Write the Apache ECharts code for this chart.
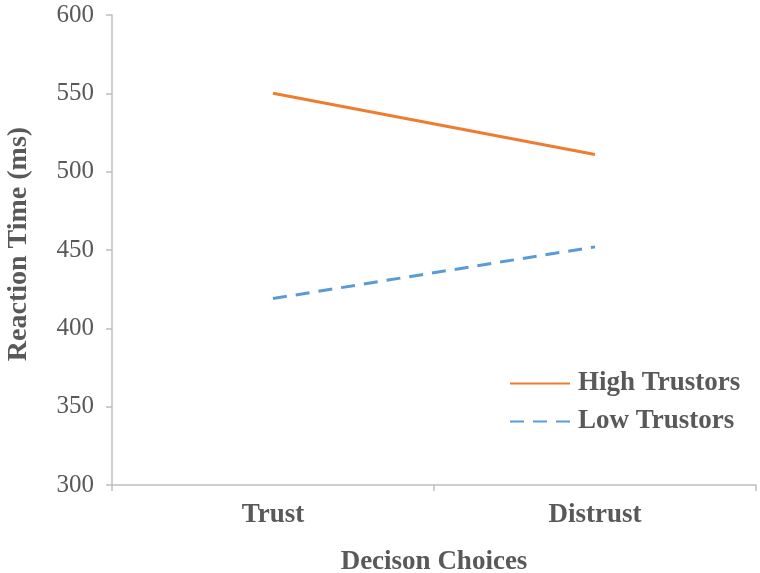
<!DOCTYPE html>
<html>
<head>
<meta charset="utf-8">
<script src="https://cdn.jsdelivr.net/npm/echarts@6/dist/echarts.min.js"></script>
<style>html,body{margin:0;padding:0;background:#fff}#c{width:760px;height:573px}</style>
</head>
<body>
<div id="c"></div>
<script>
var categories = ['Trust', 'Distrust'];
var highTrustors = [550, 511];
var lowTrustors = [419, 452];
var seriesNames = ['High Trustors', 'Low Trustors'];

var font = '"Liberation Serif", "Times New Roman", serif';
var textColor = '#595959';
var axisColor = '#bfbfbf';

var chart = echarts.init(document.getElementById('c'), null, {renderer: 'canvas'});
chart.setOption({
  animation: false,
  backgroundColor: '#fff',
  grid: {left: 112, right: 4, top: 15, bottom: 88, containLabel: false, outerBoundsMode: 'none'},
  legend: {
    orient: 'vertical',
    left: 504,
    top: 365,
    itemWidth: 60,
    itemHeight: 14,
    itemGap: 11,
    itemStyle: {opacity: 0},
    textStyle: {fontFamily: font, fontSize: 27, fontWeight: 'bold', color: textColor, padding: [0,0,0,3]},
    data: seriesNames
  },
  xAxis: {
    type: 'category',
    data: categories,
    boundaryGap: true,
    name: 'Decison Choices',
    nameLocation: 'middle',
    nameGap: 64,
    nameTextStyle: {fontFamily: font, fontSize: 27, fontWeight: 'bold', color: textColor},
    axisLine: {lineStyle: {color: axisColor, width: 1.5}},
    axisTick: {show: true, length: 6, lineStyle: {color: axisColor, width: 1.5}},
    axisLabel: {fontFamily: font, fontSize: 27, fontWeight: 'bold', color: textColor, margin: 17},
    splitLine: {show: false}
  },
  yAxis: {
    type: 'value',
    min: 300,
    max: 600,
    interval: 50,
    name: 'Reaction Time (ms)',
    nameLocation: 'middle',
    nameGap: 79,
    nameTextStyle: {fontFamily: font, fontSize: 28, fontWeight: 'bold', color: textColor, padding: [0,0,0,12]},
    axisLine: {show: true, lineStyle: {color: axisColor, width: 1.5}},
    axisTick: {show: true, length: 6, lineStyle: {color: axisColor, width: 1.5}},
    axisLabel: {fontFamily: font, fontSize: 25, color: textColor, margin: 18},
    splitLine: {show: false}
  },
  series: [
    {
      name: seriesNames[0],
      type: 'line',
      data: highTrustors,
      symbol: 'none',
      lineStyle: {color: '#ED7D31', width: 3},
      itemStyle: {color: '#ED7D31'}
    },
    {
      name: seriesNames[1],
      type: 'line',
      data: lowTrustors,
      symbol: 'none',
      lineStyle: {color: '#5B9BD5', width: 3, type: [14, 9]},
      itemStyle: {color: '#5B9BD5'}
    }
  ]
});
</script>
</body>
</html>
